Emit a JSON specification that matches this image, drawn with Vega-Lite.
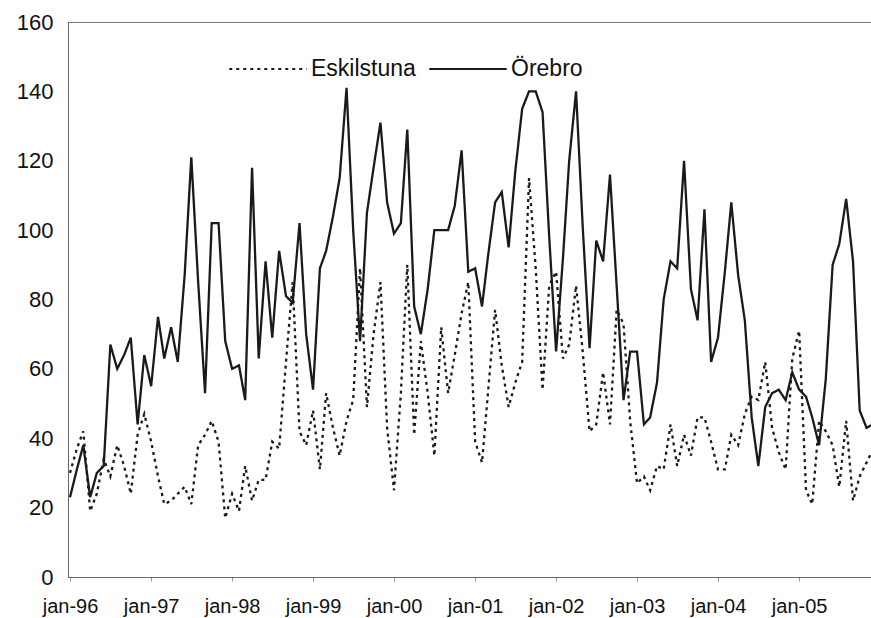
{
  "$schema": "https://vega.github.io/schema/vega-lite/v6.json",
  "width": 803,
  "height": 555,
  "autosize": {"type": "none"},
  "padding": {"left": 68, "top": 22, "right": 0, "bottom": 41},
  "background": "white",
  "config": {
    "font": "Liberation Sans",
    "view": {"stroke": "#777", "strokeWidth": 1},
    "axis": {"grid": false, "domainColor": "#666", "labelColor": "#111", "labelFont": "Liberation Sans", "title": null}
  },
  "data": {
    "values": [
      {"m": "1996-01-01", "Eskilstuna": 30, "Örebro": 23},
      {"m": "1996-02-01", "Eskilstuna": 37, "Örebro": 31},
      {"m": "1996-03-01", "Eskilstuna": 42, "Örebro": 38},
      {"m": "1996-04-01", "Eskilstuna": 19, "Örebro": 23},
      {"m": "1996-05-01", "Eskilstuna": 24, "Örebro": 30},
      {"m": "1996-06-01", "Eskilstuna": 34, "Örebro": 32},
      {"m": "1996-07-01", "Eskilstuna": 29, "Örebro": 67},
      {"m": "1996-08-01", "Eskilstuna": 38, "Örebro": 60},
      {"m": "1996-09-01", "Eskilstuna": 32, "Örebro": 64},
      {"m": "1996-10-01", "Eskilstuna": 24, "Örebro": 69},
      {"m": "1996-11-01", "Eskilstuna": 41, "Örebro": 44},
      {"m": "1996-12-01", "Eskilstuna": 47, "Örebro": 64},
      {"m": "1997-01-01", "Eskilstuna": 39, "Örebro": 55},
      {"m": "1997-02-01", "Eskilstuna": 29, "Örebro": 75},
      {"m": "1997-03-01", "Eskilstuna": 21, "Örebro": 63},
      {"m": "1997-04-01", "Eskilstuna": 22, "Örebro": 72},
      {"m": "1997-05-01", "Eskilstuna": 24, "Örebro": 62},
      {"m": "1997-06-01", "Eskilstuna": 26, "Örebro": 87},
      {"m": "1997-07-01", "Eskilstuna": 21, "Örebro": 121},
      {"m": "1997-08-01", "Eskilstuna": 38, "Örebro": 85},
      {"m": "1997-09-01", "Eskilstuna": 41, "Örebro": 53},
      {"m": "1997-10-01", "Eskilstuna": 45, "Örebro": 102},
      {"m": "1997-11-01", "Eskilstuna": 39, "Örebro": 102},
      {"m": "1997-12-01", "Eskilstuna": 17, "Örebro": 68},
      {"m": "1998-01-01", "Eskilstuna": 24, "Örebro": 60},
      {"m": "1998-02-01", "Eskilstuna": 19, "Örebro": 61},
      {"m": "1998-03-01", "Eskilstuna": 32, "Örebro": 51},
      {"m": "1998-04-01", "Eskilstuna": 22, "Örebro": 118},
      {"m": "1998-05-01", "Eskilstuna": 28, "Örebro": 63},
      {"m": "1998-06-01", "Eskilstuna": 28, "Örebro": 91},
      {"m": "1998-07-01", "Eskilstuna": 39, "Örebro": 69},
      {"m": "1998-08-01", "Eskilstuna": 37, "Örebro": 94},
      {"m": "1998-09-01", "Eskilstuna": 62, "Örebro": 81},
      {"m": "1998-10-01", "Eskilstuna": 85, "Örebro": 79},
      {"m": "1998-11-01", "Eskilstuna": 42, "Örebro": 102},
      {"m": "1998-12-01", "Eskilstuna": 38, "Örebro": 70},
      {"m": "1999-01-01", "Eskilstuna": 48, "Örebro": 54},
      {"m": "1999-02-01", "Eskilstuna": 31, "Örebro": 89},
      {"m": "1999-03-01", "Eskilstuna": 53, "Örebro": 94},
      {"m": "1999-04-01", "Eskilstuna": 43, "Örebro": 104},
      {"m": "1999-05-01", "Eskilstuna": 35, "Örebro": 115},
      {"m": "1999-06-01", "Eskilstuna": 45, "Örebro": 141},
      {"m": "1999-07-01", "Eskilstuna": 51, "Örebro": 100},
      {"m": "1999-08-01", "Eskilstuna": 89, "Örebro": 68},
      {"m": "1999-09-01", "Eskilstuna": 49, "Örebro": 105},
      {"m": "1999-10-01", "Eskilstuna": 70, "Örebro": 118},
      {"m": "1999-11-01", "Eskilstuna": 85, "Örebro": 131},
      {"m": "1999-12-01", "Eskilstuna": 43, "Örebro": 108},
      {"m": "2000-01-01", "Eskilstuna": 25, "Örebro": 99},
      {"m": "2000-02-01", "Eskilstuna": 53, "Örebro": 102},
      {"m": "2000-03-01", "Eskilstuna": 90, "Örebro": 129},
      {"m": "2000-04-01", "Eskilstuna": 41, "Örebro": 78},
      {"m": "2000-05-01", "Eskilstuna": 68, "Örebro": 70},
      {"m": "2000-06-01", "Eskilstuna": 53, "Örebro": 83},
      {"m": "2000-07-01", "Eskilstuna": 35, "Örebro": 100},
      {"m": "2000-08-01", "Eskilstuna": 72, "Örebro": 100},
      {"m": "2000-09-01", "Eskilstuna": 53, "Örebro": 100},
      {"m": "2000-10-01", "Eskilstuna": 64, "Örebro": 107},
      {"m": "2000-11-01", "Eskilstuna": 76, "Örebro": 123},
      {"m": "2000-12-01", "Eskilstuna": 85, "Örebro": 88},
      {"m": "2001-01-01", "Eskilstuna": 39, "Örebro": 89},
      {"m": "2001-02-01", "Eskilstuna": 33, "Örebro": 78},
      {"m": "2001-03-01", "Eskilstuna": 54, "Örebro": 93},
      {"m": "2001-04-01", "Eskilstuna": 77, "Örebro": 108},
      {"m": "2001-05-01", "Eskilstuna": 61, "Örebro": 111},
      {"m": "2001-06-01", "Eskilstuna": 49, "Örebro": 95},
      {"m": "2001-07-01", "Eskilstuna": 56, "Örebro": 117},
      {"m": "2001-08-01", "Eskilstuna": 62, "Örebro": 135},
      {"m": "2001-09-01", "Eskilstuna": 115, "Örebro": 140},
      {"m": "2001-10-01", "Eskilstuna": 89, "Örebro": 140},
      {"m": "2001-11-01", "Eskilstuna": 54, "Örebro": 134},
      {"m": "2001-12-01", "Eskilstuna": 84, "Örebro": 98},
      {"m": "2002-01-01", "Eskilstuna": 88, "Örebro": 65},
      {"m": "2002-02-01", "Eskilstuna": 63, "Örebro": 92},
      {"m": "2002-03-01", "Eskilstuna": 67, "Örebro": 120},
      {"m": "2002-04-01", "Eskilstuna": 84, "Örebro": 140},
      {"m": "2002-05-01", "Eskilstuna": 65, "Örebro": 101},
      {"m": "2002-06-01", "Eskilstuna": 42, "Örebro": 66},
      {"m": "2002-07-01", "Eskilstuna": 44, "Örebro": 97},
      {"m": "2002-08-01", "Eskilstuna": 59, "Örebro": 91},
      {"m": "2002-09-01", "Eskilstuna": 44, "Örebro": 116},
      {"m": "2002-10-01", "Eskilstuna": 77, "Örebro": 84},
      {"m": "2002-11-01", "Eskilstuna": 73, "Örebro": 51},
      {"m": "2002-12-01", "Eskilstuna": 45, "Örebro": 65},
      {"m": "2003-01-01", "Eskilstuna": 27, "Örebro": 65},
      {"m": "2003-02-01", "Eskilstuna": 29, "Örebro": 44},
      {"m": "2003-03-01", "Eskilstuna": 25, "Örebro": 46},
      {"m": "2003-04-01", "Eskilstuna": 32, "Örebro": 56},
      {"m": "2003-05-01", "Eskilstuna": 31, "Örebro": 80},
      {"m": "2003-06-01", "Eskilstuna": 44, "Örebro": 91},
      {"m": "2003-07-01", "Eskilstuna": 32, "Örebro": 89},
      {"m": "2003-08-01", "Eskilstuna": 41, "Örebro": 120},
      {"m": "2003-09-01", "Eskilstuna": 35, "Örebro": 83},
      {"m": "2003-10-01", "Eskilstuna": 46, "Örebro": 74},
      {"m": "2003-11-01", "Eskilstuna": 46, "Örebro": 106},
      {"m": "2003-12-01", "Eskilstuna": 39, "Örebro": 62},
      {"m": "2004-01-01", "Eskilstuna": 31, "Örebro": 69},
      {"m": "2004-02-01", "Eskilstuna": 31, "Örebro": 88},
      {"m": "2004-03-01", "Eskilstuna": 41, "Örebro": 108},
      {"m": "2004-04-01", "Eskilstuna": 38, "Örebro": 87},
      {"m": "2004-05-01", "Eskilstuna": 47, "Örebro": 74},
      {"m": "2004-06-01", "Eskilstuna": 52, "Örebro": 46},
      {"m": "2004-07-01", "Eskilstuna": 51, "Örebro": 32},
      {"m": "2004-08-01", "Eskilstuna": 62, "Örebro": 49},
      {"m": "2004-09-01", "Eskilstuna": 43, "Örebro": 53},
      {"m": "2004-10-01", "Eskilstuna": 36, "Örebro": 54},
      {"m": "2004-11-01", "Eskilstuna": 31, "Örebro": 51},
      {"m": "2004-12-01", "Eskilstuna": 63, "Örebro": 59},
      {"m": "2005-01-01", "Eskilstuna": 71, "Örebro": 54},
      {"m": "2005-02-01", "Eskilstuna": 25, "Örebro": 52},
      {"m": "2005-03-01", "Eskilstuna": 21, "Örebro": 46},
      {"m": "2005-04-01", "Eskilstuna": 45, "Örebro": 38},
      {"m": "2005-05-01", "Eskilstuna": 42, "Örebro": 57},
      {"m": "2005-06-01", "Eskilstuna": 38, "Örebro": 90},
      {"m": "2005-07-01", "Eskilstuna": 26, "Örebro": 96},
      {"m": "2005-08-01", "Eskilstuna": 45, "Örebro": 109},
      {"m": "2005-09-01", "Eskilstuna": 22, "Örebro": 91},
      {"m": "2005-10-01", "Eskilstuna": 29, "Örebro": 48},
      {"m": "2005-11-01", "Eskilstuna": 33, "Örebro": 43},
      {"m": "2005-12-01", "Eskilstuna": 37, "Örebro": 44}
    ]
  },
  "transform": [{"fold": ["Eskilstuna", "Örebro"], "as": ["city", "value"]}],
  "mark": {"type": "line", "color": "#1a1a1a", "strokeWidth": 2.3, "clip": false},
  "encoding": {
    "x": {
      "field": "m",
      "type": "temporal",
      "scale": {"type": "utc", "domain": [{"year": 1995, "month": 12, "date": 23, "utc": true}, {"year": 2005, "month": 11, "date": 21, "utc": true}]},
      "axis": {
        "values": [
          {"year": 1996, "month": 1, "date": 1, "utc": true},
          {"year": 1997, "month": 1, "date": 1, "utc": true},
          {"year": 1998, "month": 1, "date": 1, "utc": true},
          {"year": 1999, "month": 1, "date": 1, "utc": true},
          {"year": 2000, "month": 1, "date": 1, "utc": true},
          {"year": 2001, "month": 1, "date": 1, "utc": true},
          {"year": 2002, "month": 1, "date": 1, "utc": true},
          {"year": 2003, "month": 1, "date": 1, "utc": true},
          {"year": 2004, "month": 1, "date": 1, "utc": true},
          {"year": 2005, "month": 1, "date": 1, "utc": true}
        ],
        "labelExpr": "lower(utcFormat(datum.value, '%b-%y'))",
        "labelFontSize": 20,
        "labelPadding": 15,
        "tickSize": 4,
        "tickColor": "#999",
        "labelFlush": false,
        "labelOverlap": false
      }
    },
    "y": {
      "field": "value",
      "type": "quantitative",
      "scale": {"domain": [0, 160], "nice": false},
      "axis": {"values": [0, 20, 40, 60, 80, 100, 120, 140, 160], "ticks": false, "labelFontSize": 22, "labelPadding": 15}
    },
    "strokeDash": {
      "field": "city",
      "type": "nominal",
      "scale": {"domain": ["Eskilstuna", "Örebro"], "range": [[3, 4], [1, 0]]},
      "legend": {
        "orient": "none",
        "legendX": 160,
        "legendY": 7,
        "direction": "horizontal",
        "title": null,
        "symbolType": "stroke",
        "symbolSize": 6000,
        "symbolStrokeWidth": 2,
        "symbolStrokeColor": "#1a1a1a",
        "labelFontSize": 23,
        "labelColor": "#111",
        "labelOffset": 3,
        "columnPadding": 9,
        "padding": 0
      }
    }
  }
}
